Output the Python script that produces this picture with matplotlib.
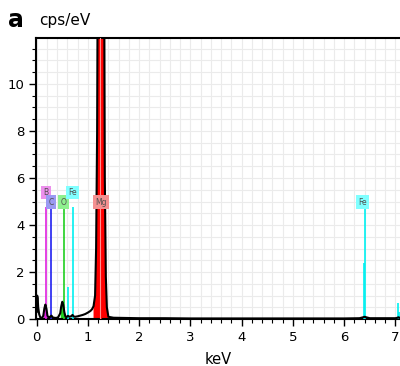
import matplotlib
matplotlib.use("Agg")
import matplotlib.pyplot as plt
import numpy as np
from matplotlib.ticker import MultipleLocator

# spectrum (keV, cps/eV)
kev = [0.00, 0.01, 0.02, 0.03, 0.05, 0.07, 0.09, 0.11, 0.13, 0.15, 0.17, 0.19,
       0.21, 0.23, 0.25, 0.27, 0.29, 0.31, 0.34, 0.38, 0.42, 0.46, 0.48, 0.50,
       0.52, 0.54, 0.56, 0.58, 0.61, 0.64, 0.67, 0.70, 0.72, 0.75, 0.80, 0.85,
       0.90, 0.95, 1.00, 1.05, 1.08, 1.11, 1.14, 1.16, 1.18, 1.20, 1.22, 1.254,
       1.29, 1.31, 1.33, 1.35, 1.37, 1.40, 1.50, 2.0, 2.5, 3.0, 3.5, 4.0, 4.5,
       5.0, 5.5, 6.0, 6.30, 6.37, 6.40, 6.43, 6.50, 7.00, 7.04, 7.06, 7.08, 7.10]
cps = [0.3, 1.0, 0.9, 0.5, 0.2, 0.08, 0.05, 0.06, 0.15, 0.45, 0.62, 0.45,
       0.15, 0.08, 0.06, 0.12, 0.15, 0.08, 0.06, 0.05, 0.08, 0.25, 0.55, 0.74,
       0.6, 0.3, 0.12, 0.08, 0.14, 0.1, 0.12, 0.18, 0.12, 0.1, 0.12, 0.15,
       0.18, 0.22, 0.28, 0.35, 0.42, 0.55, 1.0, 3.0, 8.0, 20.0, 45.0, 80.0,
       45.0, 20.0, 6.0, 1.8, 0.5, 0.1, 0.06, 0.04, 0.04, 0.03, 0.03, 0.03, 0.03,
       0.03, 0.03, 0.03, 0.04, 0.08, 0.1, 0.08, 0.04, 0.04, 0.06, 0.08, 0.06, 0.04]

# element peaks: window for fill, colour
elements = ["B", "C", "O", "Fe", "Mg"]
windows = [(0.13, 0.22), (0.25, 0.31), (0.44, 0.58), (0.67, 0.74), (1.10, 1.40)]
colors = ["#e020e0", "#2020f0", "#20d020", "#00f0f0", "#ff0000"]

# marker lines: energy, height, colour
line_kev = [0.183, 0.277, 0.525, 0.615, 0.705, 1.254, 6.39, 6.40, 7.06, 7.075]
line_h = [4.75, 4.75, 4.75, 1.37, 4.75, 4.75, 2.4, 4.75, 0.68, 0.3]
line_col = ["#e020e0", "#2020f0", "#20d020", "#00f0f0", "#00f0f0", "#ff0000",
            "#00f0f0", "#00f0f0", "#00f0f0", "#00f0f0"]

# labels: text, x, y, box colour
lab_text = ["B", "C", "O", "Fe", "Mg", "Fe"]
lab_x = [0.18, 0.28, 0.52, 0.70, 1.25, 6.36]
lab_y = [5.38, 4.98, 4.98, 5.38, 4.98, 4.98]
lab_box = ["#ec90ec", "#9a9af2", "#8ef08e", "#80ffff", "#f49090", "#80ffff"]

fig = plt.figure(figsize=(4.0, 3.66), dpi=100)
ax = fig.add_axes([0.091, 0.128, 0.909, 0.768])

ax.set_xlim(-0.005, 7.09)
ax.set_ylim(0, 11.95)

x = np.array(kev)
y = np.array(cps)
for (lo, hi), c in zip(windows, colors):
    m = (x >= lo) & (x <= hi)
    ax.fill_between(x[m], 0, y[m], color=c, lw=0, zorder=2)

for xv, h, c in zip(line_kev, line_h, line_col):
    ax.vlines(xv, 0, h, color=c, lw=1.2, zorder=3)
ax.vlines(1.235, 0, 12, color="#ff9090", lw=0.8, zorder=3)

ax.plot(kev, cps, color="black", lw=1.5, zorder=4)

for t, xv, yv, bc in zip(lab_text, lab_x, lab_y, lab_box):
    ax.text(xv, yv, t, fontsize=5.5, color="#505050", ha="center", va="center",
            zorder=6, bbox=dict(boxstyle="square,pad=0.3", fc=bc, ec="none"))

ax.xaxis.set_major_locator(MultipleLocator(1))
ax.xaxis.set_minor_locator(MultipleLocator(0.2))
ax.yaxis.set_major_locator(MultipleLocator(2))
ax.yaxis.set_minor_locator(MultipleLocator(0.5))
ax.grid(which="both", color="#ebebeb", lw=0.8, zorder=0)
ax.set_axisbelow(True)
ax.tick_params(which="major", length=5, width=1, labelsize=9.5)
ax.tick_params(which="minor", length=3, width=0.8)
for s in ["left", "bottom", "top"]:
    ax.spines[s].set_linewidth(1.5)
ax.spines["right"].set_visible(False)

ax.set_xlabel("keV", fontsize=10.5, labelpad=6)
fig.text(0.02, 0.945, "a", fontsize=17, fontweight="bold", va="center")
fig.text(0.098, 0.945, "cps/eV", fontsize=11, va="center")

fig.savefig("out.png", dpi=100)
